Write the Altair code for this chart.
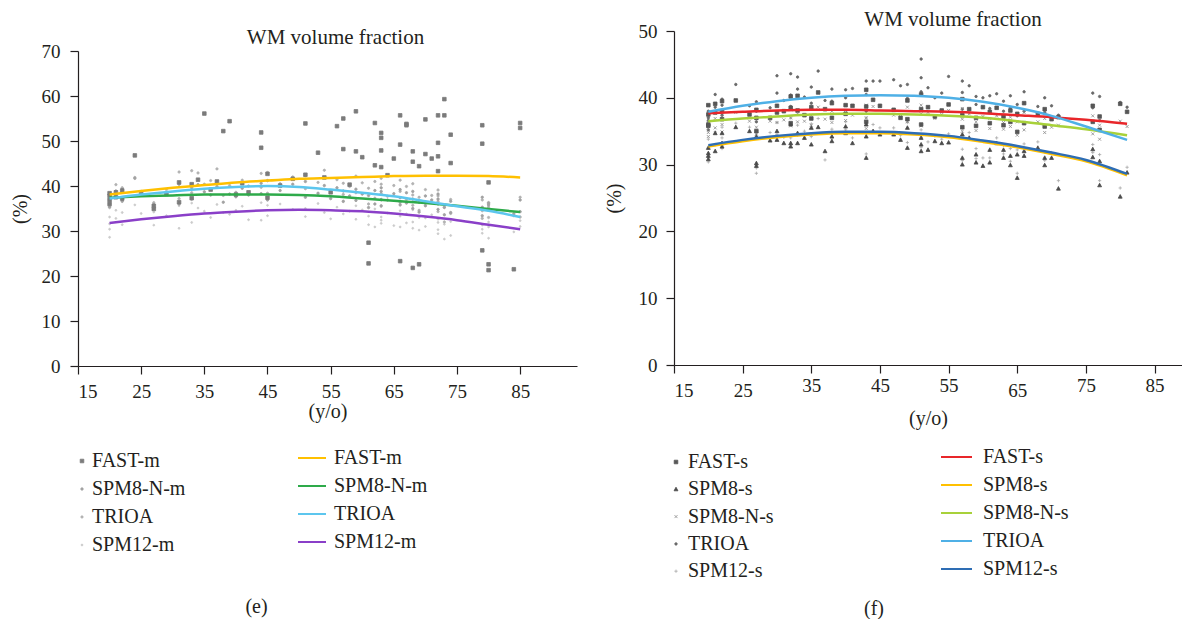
import altair as alt
import pandas as pd

FONT = "Liberation Serif"
TXT = "#231f20"

# ---------------- panel (e): ages of subjects and values per method ----------------
AGES_E = [20, 20, 20, 20, 21, 21, 22, 22, 24, 25, 27, 27, 29, 31, 31, 33, 33, 34, 35, 36,
          37, 38, 39, 40, 41, 42, 44, 44, 45, 45, 47, 49, 51, 51, 53, 54, 55, 56, 57, 57,
          58, 59, 59, 60, 61, 61, 62, 62, 63, 63, 63, 63, 64, 65, 66, 66, 66, 67, 67, 68,
          68, 68, 69, 69, 70, 70, 71, 72, 72, 72, 72, 73, 73, 74, 74, 79, 79, 79, 80, 80,
          80, 84, 85, 85]
PTS_E_FAST_M = [37.8, 36.9, 36.0, 38.4, 37.5, 38.6, 39.0, 37.2, 46.8, 38.5, 35.6, 34.9, 38.2, 40.8, 36.4, 40.4, 37.3, 41.4, 56.1, 39.2,
                41.0, 52.2, 54.4, 38.1, 40.6, 38.6, 51.9, 48.5, 42.7, 37.4, 40.1, 41.6, 53.9, 42.5, 47.4, 41.9, 38.6, 53.3, 55.0, 48.2,
                40.3, 56.6, 47.7, 46.4, 27.4, 22.8, 54.0, 44.6, 51.8, 50.7, 47.9, 44.2, 42.4, 46.1, 55.7, 49.2, 23.3, 53.8, 53.5, 47.7,
                45.4, 21.8, 44.4, 22.6, 54.8, 47.1, 46.1, 55.7, 49.6, 46.6, 43.3, 59.3, 55.7, 51.4, 45.1, 53.5, 49.4, 25.7, 22.6, 21.3,
                40.8, 21.5, 54.0, 52.9]
PTS_E_SPM8_N_M = [37.0, 36.2, 35.4, 38.0, 37.6, 38.9, 39.2, 36.6, 41.7, 38.0, 35.9, 35.0, 38.3, 40.4, 36.0, 39.6, 37.1, 40.3, 38.7, 38.0,
                  39.9, 36.4, 38.2, 37.6, 39.5, 38.0, 40.6, 38.3, 41.2, 36.9, 39.0, 40.4, 37.5, 41.0, 38.4, 40.1, 37.2, 39.6, 36.6, 38.9,
                  37.8, 39.3, 36.8, 38.2, 35.2, 37.9, 36.0, 39.0, 38.8, 37.0, 35.6, 39.6, 36.9, 38.3, 37.4, 35.8, 39.2, 36.2, 38.5, 37.1,
                  35.0, 38.8, 36.4, 34.2, 37.8, 35.6, 36.9, 38.2, 36.0, 34.8, 37.1, 35.3, 33.6, 36.6, 34.1, 37.5, 35.3, 33.4, 36.3, 34.6,
                  35.8, 33.8, 36.9, 34.3]
PTS_E_TRIOA = [37.4, 36.6, 35.2, 38.2, 38.0, 40.3, 39.6, 37.0, 41.9, 38.8, 36.3, 35.3, 39.2, 43.1, 37.2, 43.4, 38.5, 42.9, 40.4, 41.2,
               43.8, 37.9, 40.1, 38.6, 41.3, 40.0, 42.8, 39.7, 43.0, 38.4, 40.5, 42.0, 39.4, 42.3, 40.8, 43.5, 38.9, 41.4, 38.1, 40.6,
               39.9, 42.2, 38.5, 40.7, 36.0, 39.5, 37.3, 41.0, 40.4, 38.3, 36.9, 41.7, 37.7, 40.1, 38.8, 36.3, 41.3, 37.0, 39.9, 38.0,
               35.7, 40.5, 37.5, 34.6, 39.2, 36.1, 37.9, 39.1, 36.6, 34.3, 37.8, 35.2, 32.0, 37.0, 33.9, 36.9, 34.5, 32.8, 35.3, 33.0,
               36.1, 33.4, 37.5, 33.1]
PTS_E_SPM12_M = [33.1, 31.6, 30.4, 28.6, 32.8, 34.6, 34.1, 31.4, 35.8, 33.9, 31.3, 34.2, 33.4, 35.6, 30.6, 36.2, 31.9, 35.1, 34.4, 33.0,
                 35.9, 34.1, 33.7, 34.6, 35.5, 32.5, 36.3, 32.4, 35.7, 33.4, 36.0, 34.8, 35.0, 33.2, 36.1, 34.1, 32.7, 35.3, 33.8, 36.5,
                 34.4, 32.6, 35.6, 34.7, 31.4, 33.3, 30.9, 34.9, 35.4, 33.1, 31.7, 32.4, 34.0, 31.2, 33.3, 30.9, 34.5, 31.8, 33.8, 32.0,
                 30.6, 34.7, 30.2, 33.0, 32.9, 31.0, 33.6, 29.4, 31.9, 30.3, 32.6, 28.2, 31.5, 32.1, 29.0, 31.3, 29.5, 30.4, 28.4, 30.9,
                 32.0, 29.8, 31.0, 32.3]

FIT_AGES_E = [20, 25, 30, 35, 40, 45, 50, 55, 60, 65, 70, 75, 80, 85]
FIT_E_FAST_M = [38.1, 38.9, 39.6, 40.2, 40.8, 41.2, 41.6, 41.8, 42.0, 42.2, 42.3, 42.3, 42.2, 41.9]
FIT_E_SPM8_N_M = [37.4, 37.7, 37.9, 38.1, 38.1, 38.1, 38.0, 37.7, 37.2, 36.7, 36.2, 35.6, 34.9, 34.2]
FIT_E_TRIOA = [37.2, 38.1, 38.8, 39.4, 39.8, 40.0, 39.8, 39.2, 38.5, 37.7, 36.6, 35.5, 34.5, 33.1]
FIT_E_SPM12_M = [31.8, 32.6, 33.3, 33.9, 34.3, 34.6, 34.7, 34.6, 34.4, 33.9, 33.2, 32.4, 31.4, 30.4]

# ---------------- panel (f) ----------------
AGES_F = [20, 20, 20, 20, 21, 21, 22, 22, 22, 24, 26, 27, 27, 27, 29, 30, 30, 31, 32, 32,
          32, 33, 33, 34, 35, 35, 36, 37, 38, 38, 40, 40, 41, 43, 43, 43, 44, 45, 47, 48,
          49, 49, 51, 51, 51, 52, 53, 54, 55, 57, 57, 57, 58, 59, 59, 60, 61, 61, 62, 63,
          63, 64, 64, 65, 65, 66, 66, 68, 69, 69, 70, 71, 76, 76, 77, 77, 80, 81]
PTS_F_FAST_S = [38.9, 37.5, 36.0, 35.8, 39.1, 37.8, 39.5, 38.0, 36.8, 39.6, 37.5, 38.2, 37.0, 35.0, 37.0, 38.8, 37.8, 38.0, 40.2, 38.5,
                36.2, 40.3, 38.1, 37.4, 38.6, 36.9, 40.8, 38.3, 39.2, 37.0, 38.9, 37.6, 38.8, 41.2, 38.7, 36.4, 39.7, 38.8, 38.2, 37.0,
                39.6, 36.8, 40.5, 38.3, 36.0, 38.6, 37.2, 38.1, 39.0, 39.8, 37.4, 35.6, 38.3, 37.0, 35.8, 38.6, 37.9, 36.2, 38.5, 37.2,
                35.9, 38.1, 36.4, 37.6, 34.9, 39.2, 36.2, 37.6, 38.3, 35.7, 36.8, 37.1, 38.8, 36.4, 37.2, 35.2, 39.1, 37.9]
PTS_F_SPM8_S = [31.7, 31.3, 30.8, 32.5, 34.7, 32.0, 34.7, 33.2, 32.7, 35.6, 35.0, 34.2, 30.2, 29.8, 33.6, 35.0, 33.7, 33.2, 36.0, 33.2,
                32.7, 34.7, 33.2, 34.0, 35.5, 33.0, 35.6, 32.0, 34.2, 33.5, 35.7, 34.7, 33.2, 36.0, 34.2, 31.0, 35.0, 34.5, 34.5, 33.7,
                35.5, 32.5, 34.0, 33.0, 32.0, 32.2, 33.5, 33.2, 33.3, 34.5, 31.0, 30.0, 34.0, 31.5, 30.3, 29.8, 32.2, 30.3, 33.2, 32.2,
                31.0, 31.3, 29.9, 31.5, 28.0, 32.0, 31.3, 32.5, 31.0, 29.9, 31.0, 26.4, 32.3, 31.1, 30.5, 26.9, 25.2, 28.8]
PTS_F_SPM8_N_S = [36.2, 35.4, 34.8, 34.2, 36.9, 35.5, 37.2, 36.0, 34.9, 37.8, 36.5, 36.9, 35.6, 34.6, 36.5, 37.8, 36.3, 36.7, 38.2, 37.0,
                  35.8, 37.6, 36.4, 36.5, 37.4, 35.9, 38.6, 36.8, 38.0, 36.3, 37.8, 36.6, 37.4, 38.9, 37.0, 35.4, 38.7, 38.7, 37.4, 37.2,
                  38.6, 36.4, 38.9, 37.6, 35.8, 37.8, 36.9, 37.5, 38.1, 38.4, 36.8, 35.0, 37.6, 36.4, 35.1, 37.2, 36.9, 35.4, 37.3, 36.3,
                  35.3, 37.1, 35.7, 36.4, 34.4, 37.8, 35.2, 36.4, 36.9, 34.8, 35.6, 35.9, 37.3, 34.6, 35.9, 33.8, 36.5, 35.7]
PTS_F_TRIOA = [38.0, 37.0, 36.6, 35.2, 40.5, 38.6, 39.8, 38.9, 37.4, 42.0, 38.8, 39.4, 38.0, 36.4, 38.5, 43.3, 40.7, 39.6, 43.6, 40.4,
               38.7, 43.1, 41.3, 40.1, 41.6, 39.2, 44.0, 39.6, 41.3, 39.5, 41.2, 40.0, 41.4, 42.5, 40.5, 38.0, 42.5, 42.5, 42.7, 41.8,
               42.0, 39.9, 45.8, 43.0, 40.9, 41.5, 40.0, 40.7, 43.2, 42.5, 40.8, 38.3, 41.8, 40.2, 39.0, 40.0, 40.3, 38.4, 40.6, 39.5,
               38.0, 40.3, 38.5, 39.0, 37.3, 40.9, 38.0, 38.7, 40.0, 37.8, 38.8, 37.4, 40.7, 38.5, 40.2, 36.6, 39.3, 38.6]
PTS_F_SPM12_S = [33.8, 32.5, 31.2, 30.4, 34.9, 33.0, 35.6, 34.0, 32.4, 36.2, 35.6, 35.2, 29.5, 28.7, 34.8, 36.3, 34.5, 34.1, 37.0, 34.0,
                 33.0, 35.9, 34.4, 35.0, 36.1, 34.2, 36.9, 30.7, 35.3, 34.0, 36.4, 35.2, 34.0, 37.0, 34.8, 31.6, 36.0, 35.5, 35.5, 34.4,
                 36.3, 33.3, 35.2, 34.1, 32.6, 33.4, 34.3, 33.8, 34.6, 35.4, 32.3, 30.6, 34.8, 32.4, 30.9, 31.0, 33.4, 31.0, 34.0, 32.9,
                 31.6, 32.4, 30.5, 32.2, 28.7, 33.1, 32.0, 33.4, 31.9, 30.6, 31.8, 27.6, 33.0, 31.8, 31.5, 27.6, 26.5, 29.6]

FIT_AGES_F = [20, 25, 30, 35, 40, 45, 50, 55, 60, 65, 70, 75, 81]
FIT_F_FAST_S = [37.7, 37.9, 38.1, 38.2, 38.2, 38.1, 38.0, 37.9, 37.7, 37.4, 37.1, 36.7, 36.1]
FIT_F_SPM8_S = [32.7, 33.5, 34.1, 34.5, 34.7, 34.7, 34.5, 34.1, 33.4, 32.6, 31.6, 30.5, 28.4]
FIT_F_SPM8_N_S = [36.5, 36.9, 37.2, 37.5, 37.6, 37.6, 37.5, 37.3, 37.0, 36.5, 35.9, 35.3, 34.4]
FIT_F_TRIOA = [37.9, 38.8, 39.5, 40.0, 40.3, 40.4, 40.3, 40.0, 39.4, 38.5, 37.3, 35.7, 33.7]
FIT_F_SPM12_S = [32.9, 33.7, 34.3, 34.7, 34.9, 34.9, 34.7, 34.3, 33.6, 32.8, 31.8, 30.7, 28.6]

NAMES_E = ["FAST-m", "SPM8-N-m", "TRIOA", "SPM12-m"]
NAMES_F = ["FAST-s", "SPM8-s", "SPM8-N-s", "TRIOA", "SPM12-s"]

# ---------------- styles ----------------
SQ = "M-0.6,-0.6H0.6V0.6H-0.6Z"
def circ(r):
    return f"M{-r},0A{r},{r},0,1,1,{r},0A{r},{r},0,1,1,{-r},0Z"
TRI = "M0,-0.7L0.65,0.5L-0.65,0.5Z"
XSH = "M-0.5,-0.5L0.5,0.5M-0.5,0.5L0.5,-0.5"
PLUS = "M-0.55,0H0.55M0,-0.55V0.55"

PT_COLORS_E = ["#7b7b7b", "#a2a2a2", "#b2b2b2", "#cbcbcb"]
PT_SHAPES_E = [SQ, circ(0.42), circ(0.4), circ(0.32)]
LINE_COLORS_E = ["#ffc000", "#2eaa4a", "#5cc6ee", "#8a3fc8"]

PT_COLORS_F = ["#565656", "#4a4a4a", "#8a8a8a", "#6a6a6a", "#a8a8a8"]
PT_SHAPES_F = [SQ, TRI, XSH, circ(0.42), PLUS]
LINE_COLORS_F = ["#e8262a", "#ffc000", "#a8d13a", "#4fb0e6", "#2e6db4"]

FIT = "fit:"   # prefix keeps the line legend separate from the point legend


def long_df(ages, series, field, prefix=""):
    rows = []
    for name, vals in series:
        assert len(vals) == len(ages), (name, len(vals), len(ages))
        for a, v in zip(ages, vals):
            rows.append({"age": a, "value": v, field: prefix + name})
    return pd.DataFrame(rows)


# draw lighter series first, darker on top
df_pts_e = long_df(AGES_E, [("SPM12-m", PTS_E_SPM12_M), ("TRIOA", PTS_E_TRIOA),
                            ("SPM8-N-m", PTS_E_SPM8_N_M), ("FAST-m", PTS_E_FAST_M)], "method_e")
df_fit_e = long_df(FIT_AGES_E, [("SPM12-m", FIT_E_SPM12_M), ("SPM8-N-m", FIT_E_SPM8_N_M),
                                ("TRIOA", FIT_E_TRIOA), ("FAST-m", FIT_E_FAST_M)], "fit_e", FIT)
df_pts_f = long_df(AGES_F, [("SPM12-s", PTS_F_SPM12_S), ("TRIOA", PTS_F_TRIOA),
                            ("SPM8-N-s", PTS_F_SPM8_N_S), ("FAST-s", PTS_F_FAST_S),
                            ("SPM8-s", PTS_F_SPM8_S)], "method_f")
df_fit_f = long_df(FIT_AGES_F, [("SPM8-s", FIT_F_SPM8_S), ("SPM12-s", FIT_F_SPM12_S),
                                ("SPM8-N-s", FIT_F_SPM8_N_S), ("FAST-s", FIT_F_FAST_S),
                                ("TRIOA", FIT_F_TRIOA)], "fit_f", FIT)

X_TICKS = [15, 25, 35, 45, 55, 65, 75, 85]


def panel(df_pts, df_fit, pfield, lfield, names, pcolors, pshapes, lcolors,
          xdom, ydom, yticks, w, h, tdx, toff,
          yl_pad, yt_pad, xl_pad, xt_pad, pleg, lleg, sym_len):
    pt_leg = alt.Legend(orient="none", legendX=pleg[0], legendY=pleg[1], title=None,
                        labelFont=FONT, labelFontSize=20, labelColor=TXT,
                        labelOffset=pleg[3], rowPadding=pleg[2], clipHeight=20,
                        symbolSize=36, symbolStrokeWidth=0.8, symbolOpacity=1, padding=0)
    ln_leg = alt.Legend(orient="none", legendX=lleg[0], legendY=lleg[1], title=None,
                        labelFont=FONT, labelFontSize=20, labelColor=TXT,
                        labelOffset=lleg[3], rowPadding=lleg[2], clipHeight=20,
                        symbolType="stroke", symbolSize=sym_len * sym_len,
                        symbolStrokeWidth=2, padding=0,
                        labelExpr=f"replace(datum.label, '{FIT}', '')")
    x = alt.X("age:Q", scale=alt.Scale(domain=xdom, nice=False, zero=False),
              axis=alt.Axis(values=X_TICKS, title="(y/o)", labelPadding=xl_pad,
                            titlePadding=xt_pad))
    y = alt.Y("value:Q", scale=alt.Scale(domain=ydom, nice=False, zero=True),
              axis=alt.Axis(values=yticks, title="(%)", labelPadding=yl_pad,
                            titlePadding=yt_pad))
    pts = alt.Chart(df_pts).mark_point(opacity=1, strokeWidth=0.8, size=36).encode(
        x=x, y=y,
        fill=alt.Fill(f"{pfield}:N", scale=alt.Scale(domain=names, range=pcolors), legend=pt_leg),
        stroke=alt.Stroke(f"{pfield}:N", scale=alt.Scale(domain=names, range=pcolors), legend=pt_leg),
        shape=alt.Shape(f"{pfield}:N", scale=alt.Scale(domain=names, range=pshapes), legend=pt_leg),
    )
    lines = alt.Chart(df_fit).mark_line(strokeWidth=2.5, interpolate="monotone").encode(
        x="age:Q", y="value:Q",
        color=alt.Color(f"{lfield}:N", scale=alt.Scale(domain=[FIT + n for n in names], range=lcolors),
                        legend=ln_leg),
        detail=f"{lfield}:N",
    )
    return alt.layer(pts, lines).properties(
        width=w, height=h,
        title=alt.TitleParams(text="WM volume fraction", anchor="middle", dx=tdx, offset=toff,
                              fontSize=21),
    )


# the right panel's tick labels sit slightly staggered in the original
STAGGER = {"condition": {"test": "datum.value == 15 || datum.value == 25 || datum.value == 65",
                         "value": 8}, "value": 3}

left = panel(df_pts_e, df_fit_e, "method_e", "fit_e", NAMES_E, PT_COLORS_E, PT_SHAPES_E,
             LINE_COLORS_E, [15, 94], [0, 70], list(range(0, 71, 10)), 499, 315,
             8, -6, 10, 11, 8, 0,
             (-6, 400, 8, 0), (219, 397, 8, 7), 28)
right = panel(df_pts_f, df_fit_f, "method_f", "fit_f", NAMES_F, PT_COLORS_F, PT_SHAPES_F,
              LINE_COLORS_F, [15, 89], [0, 50], list(range(0, 51, 5)), 508, 334,
              25, -8, 9, 14, STAGGER, 8,
              (-8, 421, 7.3, 2), (266, 416, 8, 10), 31)

RES = dict(fill="independent", stroke="independent", shape="independent", color="independent")


def spacer():
    # tiny invisible view used only to offset a panel vertically
    return alt.Chart(pd.DataFrame({"a": [0]})).mark_point(opacity=0, size=0, strokeWidth=0).encode(
        x=alt.value(0), y=alt.value(0)).properties(width=1, height=1)


wrap_e = alt.vconcat(spacer(), left, spacing=18,
                     title=alt.TitleParams("(e)", orient="bottom", anchor="middle",
                                           dx=-37, offset=42, fontSize=20)).resolve_scale(**RES)
wrap_f = alt.vconcat(spacer(), right, spacing=0,
                     title=alt.TitleParams("(f)", orient="bottom", anchor="middle",
                                           dx=-19, offset=17, fontSize=20)).resolve_scale(**RES)

chart = alt.concat(wrap_e, wrap_f, columns=2, spacing=27).resolve_scale(**RES).properties(
    padding={"left": 2, "top": 0, "right": 0, "bottom": 0}
).configure_axis(
    labelFont=FONT, labelFontSize=19, labelColor=TXT, titleFont=FONT, titleFontSize=20,
    titleFontWeight="normal", titleColor=TXT, domainColor=TXT, tickColor=TXT,
    grid=False, tickSize=8, domainWidth=1.2, tickWidth=1.2,
).configure_view(stroke=None).configure_title(
    font=FONT, fontWeight="normal", color=TXT
)

chart.save("out.html", embed_options={"renderer": "svg", "actions": False})
